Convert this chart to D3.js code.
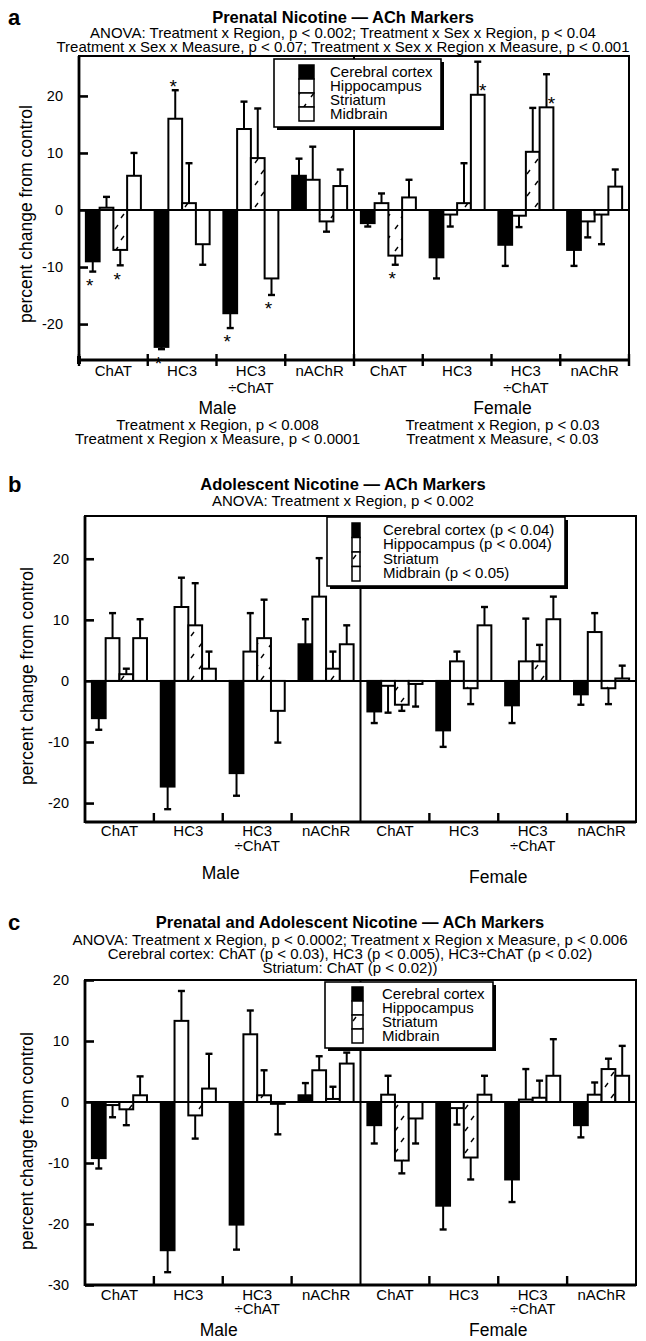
<!DOCTYPE html>
<html><head><meta charset="utf-8">
<script src="https://cdn.jsdelivr.net/npm/d3@7"></script>
<style>
body{margin:0;background:#fff}
svg{display:block}
</style>
</head><body>
<svg id="chart" width="646" height="1341"></svg>
<script>
// ---------------- DATA ----------------
const measures = ["ChAT", "HC3", "HC3÷ChAT", "nAChR"];
const regions = ["Cerebral cortex", "Hippocampus", "Striatum", "Midbrain"];
const sexes = ["Male", "Female"];

// Panel a: Prenatal nicotine (rows = measures, cols = regions)
const aMaleMean   = [[-9, 0.4, -7, 6], [-24, 16, 1.2, -6], [-18.1, 14.2, 9.1, -12], [6, 5.3, -2, 4.2]];
const aMaleSem    = [[1.8, 1.9, 2.7, 4], [0.4, 5, 7, 3.6], [2.6, 4.8, 8.7, 2.9], [3, 5.8, 1.8, 2.9]];
const aFemaleMean = [[-2.3, 1.2, -8, 2.2], [-8.3, -0.8, 1.2, 20.2], [-6.1, -1, 10.2, 18], [-7, -2, -0.8, 4.1]];
const aFemaleSem  = [[0.6, 1.7, 1.6, 3.1], [3.7, 2.1, 7, 5.8], [3.7, 2, 7.7, 5.8], [2.8, 2.8, 5.2, 3]];
const aTicks = [-20, -10, 0, 10, 20];
const aStars = [
  ["Male", "ChAT", "Cerebral cortex", "below"],
  ["Male", "ChAT", "Striatum", "below"],
  ["Male", "HC3", "Cerebral cortex", "below"],
  ["Male", "HC3", "Hippocampus", "above"],
  ["Male", "HC3÷ChAT", "Cerebral cortex", "below"],
  ["Male", "HC3÷ChAT", "Midbrain", "below"],
  ["Female", "ChAT", "Striatum", "below"],
  ["Female", "HC3", "Midbrain", "side"],
  ["Female", "HC3÷ChAT", "Midbrain", "side"]
];
const aTitle = "Prenatal Nicotine — ACh Markers";
const aSub = ["ANOVA: Treatment x Region, p < 0.002; Treatment x Sex x Region, p < 0.04",
              "Treatment x Sex x Measure, p < 0.07; Treatment x Sex x Region x Measure, p < 0.001"];
const aMaleNotes = ["Treatment x Region, p < 0.008", "Treatment x Region x Measure, p < 0.0001"];
const aFemaleNotes = ["Treatment x Region, p < 0.03", "Treatment x Measure,  < 0.03"];
const aLegend = ["Cerebral cortex", "Hippocampus", "Striatum", "Midbrain"];

// Panel b: Adolescent nicotine
const bMaleMean   = [[-6.1, 7, 1.1, 7], [-17.3, 12.1, 9.1, 2], [-15.1, 4.8, 7, -4.9], [6, 13.8, 2, 6]];
const bMaleSem    = [[1.9, 4.1, 0.9, 3.1], [3.7, 4.8, 6.9, 2.8], [3.7, 6.3, 6.3, 5.2], [4.1, 6.3, 2.8, 3.1]];
const bFemaleMean = [[-5, -0.8, -3.9, -0.5], [-8.1, 3.2, -1.2, 9.1], [-4, 3.2, 3.2, 10.1], [-2.2, 8, -1.2, 0.4]];
const bFemaleSem  = [[1.9, 4.4, 1, 3.7], [2.7, 1.6, 2.6, 3], [2.9, 7, 2.7, 3.7], [1.7, 3.1, 2.6, 2.1]];
const bTicks = [-20, -10, 0, 10, 20];
const bTitle = "Adolescent Nicotine — ACh Markers";
const bSub = ["ANOVA: Treatment x Region, p < 0.002"];
const bLegend = ["Cerebral cortex (p < 0.04)", "Hippocampus (p < 0.004)", "Striatum", "Midbrain (p < 0.05)"];

// Panel c: Prenatal and adolescent nicotine
const cMaleMean   = [[-9.2, -0.5, -1.2, 1.1], [-24.3, 13.3, -2.2, 2.2], [-20.1, 11.1, 1.1, -0.3], [1.1, 5.2, 0.5, 6.3]];
const cMaleSem    = [[1.7, 2, 2.6, 3.1], [3.6, 4.9, 3.8, 5.7], [4.1, 3.9, 4.1, 5], [2, 2.3, 2, 1.8]];
const cFemaleMean = [[-3.8, 1.2, -9.6, -2.7], [-17, -1, -9.1, 1.2], [-12.7, 0.4, 0.7, 4.3], [-3.8, 1.2, 5.4, 4.3]];
const cFemaleSem  = [[3, 3.1, 2.1, 4.1], [3.9, 2.7, 3.6, 3.1], [3.7, 5, 2.8, 6], [2, 2, 1.7, 4.9]];
const cTicks = [-30, -20, -10, 0, 10, 20];
const cTitle = "Prenatal and Adolescent Nicotine — ACh Markers";
const cSub = ["ANOVA: Treatment x Region, p < 0.0002; Treatment x Region x Measure, p < 0.006",
              "Cerebral cortex: ChAT (p < 0.03), HC3 (p < 0.005), HC3÷ChAT (p < 0.02)",
              "Striatum: ChAT (p < 0.02))"];
const cLegend = ["Cerebral cortex", "Hippocampus", "Striatum", "Midbrain"];

const yLabel = "percent change from control";

// ---------------- DRAW ----------------
const FONT = "'Liberation Sans', Arial, Helvetica, sans-serif";
const svg = d3.select("#chart");
svg.append("rect").attr("width", 646).attr("height", 1341).attr("fill", "#fff");

const defs = svg.append("defs");
const pat = defs.append("pattern").attr("id", "strPat").attr("patternUnits", "userSpaceOnUse")
  .attr("width", 14).attr("height", 22);
pat.append("rect").attr("width", 14).attr("height", 22).attr("fill", "#fff");
pat.append("path").attr("d", "M3,9 L6,5 M9,20 L12,16").attr("stroke", "#000").attr("stroke-width", 1.4).attr("fill", "none");

const regionFill = d3.scaleOrdinal().domain(regions).range(["#000", "#fff", "url(#strPat)", "#fff"]);

function txt(g, x, y, s, size, opts = {}) {
  return g.append("text").attr("x", x).attr("y", y).text(s)
    .attr("font-family", FONT).attr("font-size", size)
    .attr("font-weight", opts.bold ? "bold" : "normal")
    .attr("text-anchor", opts.anchor || "middle").attr("fill", "#000");
}

function drawPanel(cfg) {
  const g = svg.append("g");
  const keys = [];
  sexes.forEach(s => measures.forEach(m => keys.push(s + "|" + m)));
  const X = d3.scaleBand().domain(keys).range([cfg.x0, cfg.x1]).padding(0);
  const R = d3.scaleBand().domain(regions).range([0, X.bandwidth()]).paddingInner(0).paddingOuter(0.5);
  const Y = d3.scaleLinear().domain(cfg.domain).range([cfg.yBot, cfg.yTop]);

  // Headings
  txt(g, 8, cfg.titleY + 2, cfg.letter, 22, {bold: true, anchor: "start"});
  txt(g, cfg.titleX, cfg.titleY, cfg.title, 16.5, {bold: true});
  cfg.sub.forEach((s, i) => txt(g, cfg.titleX, cfg.subY + i * cfg.subDy, s, 15));

  // Frame
  g.append("rect").attr("x", cfg.x0).attr("y", cfg.yTop).attr("width", cfg.x1 - cfg.x0)
    .attr("height", cfg.yBot - cfg.yTop).attr("fill", "none").attr("stroke", "#000").attr("stroke-width", 2);
  g.append("line").attr("x1", cfg.x0).attr("x2", cfg.x0).attr("y1", cfg.yTop).attr("y2", cfg.yBot + 1)
    .attr("stroke", "#000").attr("stroke-width", 2.8);
  g.append("line").attr("x1", cfg.x0).attr("x2", cfg.x1).attr("y1", cfg.yBot).attr("y2", cfg.yBot)
    .attr("stroke", "#000").attr("stroke-width", 2.8);
  // zero line
  g.append("line").attr("x1", cfg.x0).attr("x2", cfg.x1).attr("y1", Y(0)).attr("y2", Y(0))
    .attr("stroke", "#000").attr("stroke-width", 2);
  // divider
  const xd = X("Female|ChAT");
  g.append("line").attr("x1", xd).attr("x2", xd).attr("y1", cfg.yTop).attr("y2", cfg.yBot)
    .attr("stroke", "#000").attr("stroke-width", 2);

  // Bars
  const rows = [];
  sexes.forEach(s => measures.forEach((m, mi) => regions.forEach((r, ri) => {
    rows.push({s, m, r, v: cfg.mean[s][mi][ri], e: cfg.sem[s][mi][ri]});
  })));
  const bx = d => X(d.s + "|" + d.m) + R(d.r);
  const bw = R.bandwidth();

  // error bars
  const eg = g.append("g").attr("stroke", "#000").attr("stroke-width", 2).attr("fill", "none");
  rows.forEach(d => {
    const sgn = d.v < 0 ? -1 : 1;
    const tip = d.v + sgn * d.e;
    const cx = bx(d) + bw / 2;
    eg.append("line").attr("x1", cx).attr("x2", cx).attr("y1", Y(d.v)).attr("y2", Y(tip));
    eg.append("line").attr("x1", cx - 3.5).attr("x2", cx + 3.5).attr("y1", Y(tip)).attr("y2", Y(tip)).attr("stroke-width", 2.4);
  });

  g.append("g").selectAll("rect").data(rows).join("rect")
    .attr("x", bx).attr("width", bw)
    .attr("y", d => Math.min(Y(d.v), Y(0)))
    .attr("height", d => Math.abs(Y(d.v) - Y(0)))
    .attr("fill", d => regionFill(d.r))
    .attr("stroke", "#000").attr("stroke-width", 2);

  // y axis
  const ax = g.append("g").attr("transform", `translate(${cfg.x0},0)`)
    .call(d3.axisLeft(Y).tickValues(cfg.ticks).tickSize(-9).tickPadding(16).tickFormat(d => String(d)));
  ax.select(".domain").remove();
  ax.selectAll(".tick line").attr("stroke", "#000").attr("stroke-width", 2.6);
  ax.selectAll(".tick text").attr("font-family", FONT).attr("font-size", 14.5).attr("fill", "#000");
  ax.attr("font-family", FONT);

  // y label
  g.append("text").attr("transform", `translate(${cfg.yLabelX},${cfg.yLabelY}) rotate(-90)`)
    .attr("text-anchor", "middle").attr("font-family", FONT).attr("font-size", 17.5).attr("fill", "#000").text(yLabel);

  // bottom ticks at category boundaries
  const bounds = [];
  keys.forEach((k, i) => {
    if (cfg.allTicks || (i % 4 !== 0)) bounds.push(X(k));
  });
  if (cfg.allTicks) bounds.push(cfg.x1);
  g.append("g").selectAll("line").data(bounds).join("line")
    .attr("x1", d => d).attr("x2", d => d)
    .attr("y1", cfg.yBot + cfg.tickDown).attr("y2", cfg.yBot - cfg.tickUp)
    .attr("stroke", "#000").attr("stroke-width", 2.4);
  if (cfg.allTicks) {
    g.append("rect").attr("x", cfg.x0 - 2).attr("y", cfg.yBot - 4).attr("width", 4).attr("height", 8).attr("fill", "#000");
  }

  // category labels
  keys.forEach(k => {
    const m = k.split("|")[1];
    const lines = m.indexOf("÷") > 0 ? [m.split("÷")[0], "÷" + m.split("÷")[1]] : [m];
    const cx = X(k) + X.bandwidth() / 2;
    lines.forEach((l, i) => txt(g, cx, cfg.catY + i * cfg.catDy, l, 15));
  });

  // sex labels + notes
  const mid = s => (X(s + "|ChAT") + X(s + "|nAChR") + X.bandwidth()) / 2;
  txt(g, mid("Male") + cfg.maleShift, cfg.sexY, "Male", 17.5);
  txt(g, mid("Female") + cfg.femaleShift, cfg.sexY + cfg.femaleDy, "Female", 17.5);
  (cfg.maleNotes || []).forEach((s, i) => txt(g, mid("Male") + cfg.maleShift, cfg.noteY + i * 14, s, 15));
  (cfg.femaleNotes || []).forEach((s, i) => txt(g, mid("Female") + cfg.femaleShift, cfg.noteY + i * 14, s, 15));

  // legend
  const L = cfg.leg;
  const lg = g.append("g");
  lg.append("rect").attr("x", L.x + 3).attr("y", L.y + 3).attr("width", L.w).attr("height", L.h).attr("fill", "#000");
  lg.append("rect").attr("x", L.x).attr("y", L.y).attr("width", L.w).attr("height", L.h)
    .attr("fill", "#fff").attr("stroke", "#000").attr("stroke-width", 1.6);
  regions.forEach((r, i) => {
    lg.append("rect").attr("x", L.sx).attr("y", L.sy + i * L.sh).attr("width", L.sw).attr("height", L.sh)
      .attr("fill", regionFill(r)).attr("stroke", "#000").attr("stroke-width", 1.5);
    txt(lg, L.tx, L.sy + i * L.sh + L.sh / 2 + 4.5, cfg.legendText[i], 15, {anchor: "start"});
  });

  // significance stars
  const starSize = 19;
  (cfg.stars || []).forEach(st => {
    const [s, m, r, pos] = st;
    const mi = measures.indexOf(m), ri = regions.indexOf(r);
    const v = cfg.mean[s][mi][ri], e = cfg.sem[s][mi][ri];
    const tip = v + (v < 0 ? -1 : 1) * e;
    const cx = X(s + "|" + m) + R(r) + bw / 2;
    let x, y;
    if (pos === "below") { x = cx - 3; y = Y(tip) + 9; }
    else if (pos === "above") { x = cx - 2; y = Y(tip) - 9; }
    else { x = cx + 5; y = Y(v) - 9; }
    txt(g, x, y + 0.6 * starSize, "*", starSize);
  });
}

drawPanel({
  letter: "a", title: aTitle, sub: aSub, titleX: 343, titleY: 23, subY: 38, subDy: 14,
  x0: 79, x1: 629, yTop: 56, yBot: 360, domain: [-26.3, 27], ticks: aTicks,
  mean: {Male: aMaleMean, Female: aFemaleMean}, sem: {Male: aMaleSem, Female: aFemaleSem},
  yLabelX: 32, yLabelY: 214, allTicks: true, tickDown: 6, tickUp: 6,
  catY: 375.5, catDy: 17, sexY: 413.5, femaleDy: 0, noteY: 430, maleShift: 1, femaleShift: 11,
  maleNotes: aMaleNotes, femaleNotes: aFemaleNotes,
  leg: {x: 274, y: 59, w: 167, h: 68, sx: 299, sy: 65, sw: 15, sh: 14, tx: 330},
  legendText: aLegend, stars: aStars
});

drawPanel({
  letter: "b", title: bTitle, sub: bSub, titleX: 343, titleY: 490, subY: 505.5, subDy: 14,
  x0: 85, x1: 636, yTop: 516, yBot: 822, domain: [-23.1, 27], ticks: bTicks,
  mean: {Male: bMaleMean, Female: bFemaleMean}, sem: {Male: bMaleSem, Female: bFemaleSem},
  yLabelX: 33, yLabelY: 676, allTicks: false, tickDown: 0, tickUp: 9,
  catY: 835.5, catDy: 15, sexY: 879, femaleDy: 4, noteY: 0, maleShift: -2, femaleShift: 0,
  leg: {x: 327, y: 517, w: 238, h: 69, sx: 352, sy: 523, sw: 8, sh: 14.5, tx: 383},
  legendText: bLegend, stars: []
});

drawPanel({
  letter: "c", title: cTitle, sub: cSub, titleX: 350, titleY: 928, subY: 944.5, subDy: 14,
  x0: 85, x1: 636, yTop: 980, yBot: 1285, domain: [-30, 20], ticks: cTicks,
  mean: {Male: cMaleMean, Female: cFemaleMean}, sem: {Male: cMaleSem, Female: cFemaleSem},
  yLabelX: 33, yLabelY: 1141, allTicks: false, tickDown: 0, tickUp: 9,
  catY: 1300, catDy: 14, sexY: 1336, femaleDy: 0, noteY: 0, maleShift: -4, femaleShift: 0,
  leg: {x: 325, y: 982, w: 168, h: 66, sx: 352, sy: 987, sw: 11, sh: 14, tx: 382},
  legendText: cLegend, stars: []
});
</script>
</body></html>
